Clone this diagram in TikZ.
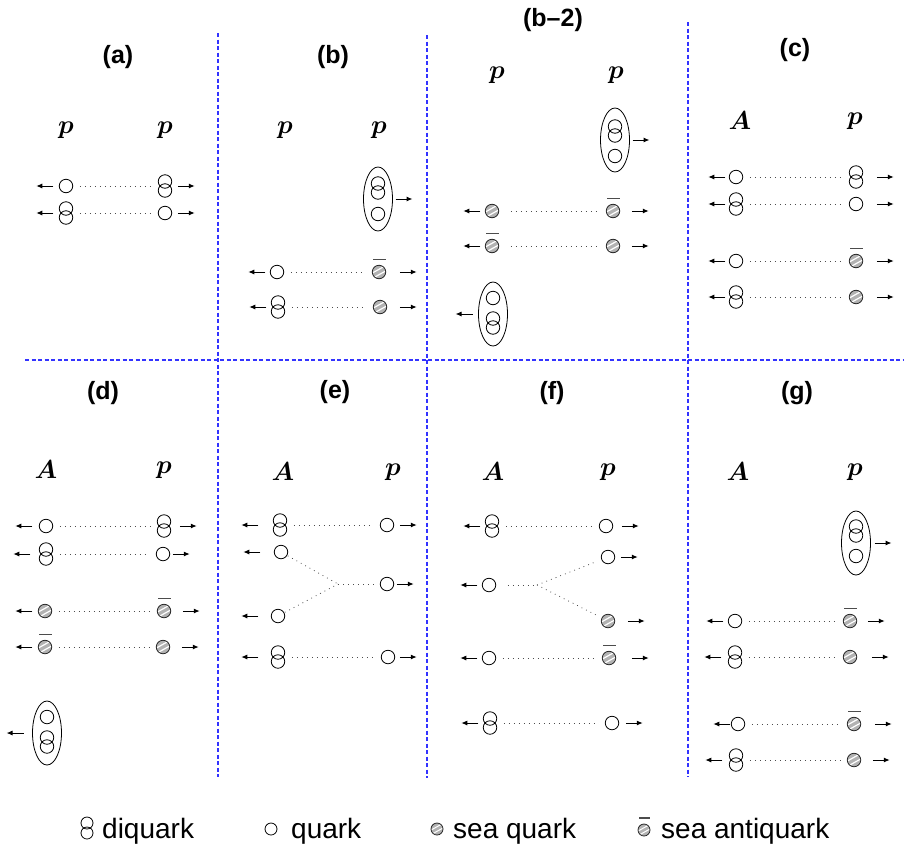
\documentclass[tikz,border=0pt]{standalone}
\usepackage{amsmath}
\usepackage{fontspec}
\setmainfont{Liberation Sans}
\usetikzlibrary{shapes.geometric,arrows.meta}

% white diagonal stripes inside a sea-quark disc; #1 = scale factor
\newcommand\seastripes[1]{%
  \foreach \s in {-1,1}{%
    \draw[white,line width=#1*1.2pt]
      ([shift={(-#1*9pt,{\s*#1*2.7pt-#1*5pt})}]path picture bounding box.center)
      -- ++(#1*18pt,#1*10pt);}}
% momentum arrows pointing right / left away from a node; optional gap
\newcommand\momr[2][6]{\draw[mom] ([xshift=#1pt]#2.east) -- +(17,0);}
\newcommand\moml[2][6]{\draw[mom] ([xshift=-#1pt]#2.west) -- +(-17,0);}

\begin{document}
\begin{tikzpicture}[x=1pt,y=-1pt,
  quark/.style={circle, draw, line width=0.8pt, minimum size=13.5pt, inner sep=0pt, outer sep=0pt},
  dqc/.style={circle, draw, line width=0.8pt, minimum size=13.5pt, inner sep=0pt},
  diquark/.style={minimum width=13.5pt, minimum height=22pt, inner sep=0pt, outer sep=0pt,
    label={[dqc,shift={(0pt,4.5pt)}]center:},
    label={[dqc,shift={(0pt,-4.5pt)}]center:}},
  sea/.style={quark, draw=black!85, fill=gray!60, path picture={\seastripes{1}}},
  bar/.style={fill=black!70, inner sep=0pt, outer sep=0pt, minimum width=13pt, minimum height=1.3pt},
  anti/.style={sea, label={[bar,shift={(0pt,12.5pt)}]center:}},
  hadron/.style={ellipse, draw, line width=0.8pt, minimum width=29pt, minimum height=64pt, inner sep=0pt, outer sep=0pt},
  mom/.style={line width=1pt, -{Latex[length=6pt,width=5pt]}},
  link/.style={line width=0.8pt, gray!60!black, dash pattern=on 0.8pt off 4.2pt, shorten <=7pt, shorten >=7pt},
  divider/.style={line width=1.1pt, blue!80!white, dash pattern=on 4pt off 2.5pt},
  title/.style={font=\bfseries\fontsize{25}{30}\selectfont},
  who/.style={font=\normalsize, scale=2.6, transform shape},
  legend/.style={font=\fontsize{28}{33}\selectfont, anchor=base west, inner sep=0pt},
  lq/.style={circle, draw, line width=0.8pt, minimum size=12pt, inner sep=0pt, outer sep=0pt},
  ldq/.style={minimum width=12pt, minimum height=22pt, inner sep=0pt,
    label={[lq,shift={(0pt,5pt)}]center:}, label={[lq,shift={(0pt,-5pt)}]center:}},
  lsea/.style={lq, draw=black!85, fill=gray!60, path picture={\seastripes{0.85}}},
  lanti/.style={lsea, label={[bar,minimum width=11pt,shift={(0pt,12pt)}]center:}},
]
\useasboundingbox (0,0) rectangle (904,849);

% panel separators
\draw[divider] (25,360) -- (904,360);
\draw[divider] (218,33) -- (218,777);
\draw[divider] (427,35) -- (427,778);
\draw[divider] (688,22) -- (688,777);

% ---------------- (a)
\node[title] (ta) at (118,57) {(a)};
\node[who] (aL) at (66,130) {$\boldsymbol{p}$};
\node[who] (aR) at (165,130) {$\boldsymbol{p}$};
\node[quark] (a1) at (66,186) {};
\node[diquark] (a2) at (165,186) {};
\node[diquark] (a3) at (66,213) {};
\node[quark] (a4) at (165,213) {};
\draw[link] (a1) -- (a2);
\draw[link] (a3) -- (a4);
\moml{a1} \momr{a2} \moml{a3} \momr{a4}

% ---------------- (b)
\node[title] (tb) at (333,57) {(b)};
\node[who] (bL) at (285,130) {$\boldsymbol{p}$};
\node[who] (bR) at (379,130) {$\boldsymbol{p}$};
\node[hadron] (bh) at (378,199) {};
\node[diquark] (bh1) at (378,188) {};
\node[quark] (bh2) at (378,214) {};
\momr[3]{bh}
\node[quark] (b1) at (277,272) {};
\node[anti] (b2) at (379,272) {};
\node[diquark] (b3) at (278,307) {};
\node[sea] (b4) at (380,307) {};
\draw[link] (b1) -- (b2);
\draw[link] (b3) -- (b4);
\moml[5]{b1} \momr[14]{b2} \moml[5]{b3} \momr[13]{b4}

% ---------------- (b-2)
\node[title] (tb2) at (553,20) {(b--2)};
\node[who] (cL) at (497,75) {$\boldsymbol{p}$};
\node[who] (cR) at (616,75) {$\boldsymbol{p}$};
\node[hadron] (ch) at (615,140) {};
\node[diquark] (ch1) at (615,131) {};
\node[quark] (ch2) at (615,156) {};
\momr[3]{ch}
\node[sea] (c1) at (492,211) {};
\node[anti] (c2) at (613,211) {};
\node[anti] (c3) at (492,246) {};
\node[sea] (c4) at (613,246) {};
\draw[link,shorten <=12pt,shorten >=9pt] (c1) -- (c2);
\draw[link,shorten <=12pt,shorten >=9pt] (c3) -- (c4);
\moml[5]{c1} \momr[12]{c2} \moml[5]{c3} \momr[12]{c4}
\node[hadron] (cg) at (493,314) {};
\node[quark] (cg1) at (493,298) {};
\node[diquark] (cg2) at (493,323) {};
\moml[6]{cg}

% ---------------- (c)
\node[title] (tc) at (795,50) {(c)};
\node[who] (dL) at (740,121) {$\boldsymbol{A}$};
\node[who] (dR) at (855,121) {$\boldsymbol{p}$};
\node[quark] (d1) at (736,177) {};
\node[diquark] (d2) at (856,177) {};
\node[diquark] (d3) at (736,204) {};
\node[quark] (d4) at (856,204) {};
\node[quark] (d5) at (736,261) {};
\node[anti] (d6) at (856,261) {};
\node[diquark] (d7) at (736,297) {};
\node[sea] (d8) at (856,297) {};
\foreach \u/\v in {d1/d2,d3/d4,d5/d6,d7/d8} \draw[link] (\u) -- (\v);
\moml[4]{d1} \momr[14]{d2} \moml[4]{d3} \momr[14]{d4}
\moml[4]{d5} \momr[14]{d6} \moml[4]{d7} \momr[14]{d8}

% ---------------- (d)
\node[title] (td) at (103,393) {(d)};
\node[who] (eL) at (46,470) {$\boldsymbol{A}$};
\node[who] (eR) at (164,470) {$\boldsymbol{p}$};
\node[quark] (e1) at (46,526) {};
\node[diquark] (e2) at (164,526) {};
\node[diquark] (e3) at (46,554) {};
\node[quark] (e4) at (163,554) {};
\node[sea] (e5) at (45,611) {};
\node[anti] (e6) at (164,611) {};
\node[anti] (e7) at (45,647) {};
\node[sea] (e8) at (163,647) {};
\foreach \u/\v in {e1/e2,e3/e4,e5/e6,e7/e8} \draw[link] (\u) -- (\v);
\moml[7]{e1} \momr[9]{e2} \moml[9]{e3} \momr[3]{e4}
\moml[6]{e5} \momr[12]{e6} \moml[6]{e7} \momr[12]{e8}
\node[hadron] (eg) at (47,733) {};
\node[quark] (eg1) at (47,717) {};
\node[diquark] (eg2) at (47,742) {};
\moml[9]{eg}

% ---------------- (e)
\node[title] (te) at (335,392) {(e)};
\node[who] (fL) at (283,472) {$\boldsymbol{A}$};
\node[who] (fR) at (393,472) {$\boldsymbol{p}$};
\node[diquark] (f1) at (280,525) {};
\node[quark] (f2) at (387,525) {};
\node[quark] (f3) at (281,552) {};
\node[quark] (f4) at (387,584) {};
\node[quark] (f5) at (278,616) {};
\node[diquark] (f6) at (278,657) {};
\node[quark] (f7) at (388,657) {};
\coordinate (fj) at (338,584);
\draw[link] (f1) -- (f2);
\draw[link,shorten <=1pt,shorten >=0pt] (f3) -- (fj);
\draw[link,shorten <=1pt,shorten >=0pt] (f5) -- (fj);
\draw[link,shorten <=0pt] (fj) -- (f4);
\draw[link] (f6) -- (f7);
\moml[15]{f1} \momr[6]{f2} \moml[14]{f3} \momr[3]{f4}
\moml[13]{f5} \moml[13]{f6} \momr[5]{f7}

% ---------------- (f)
\node[title] (tf) at (552,393) {(f)};
\node[who] (gL) at (493,472) {$\boldsymbol{A}$};
\node[who] (gR) at (608,472) {$\boldsymbol{p}$};
\node[diquark] (g1) at (492,526) {};
\node[quark] (g2) at (606,526) {};
\node[quark] (g3) at (608,557) {};
\node[quark] (g4) at (489,585) {};
\node[sea] (g5) at (608,621) {};
\node[quark] (g6) at (489,658) {};
\node[anti] (g7) at (609,658) {};
\node[diquark] (g8) at (490,723) {};
\node[quark] (g9) at (612,723) {};
\coordinate (gj) at (537,585);
\draw[link] (g1) -- (g2);
\draw[link,shorten <=12pt,shorten >=0pt] (g4) -- (gj);
\draw[link,shorten <=0pt,shorten >=5pt] (gj) -- (g3);
\draw[link,shorten <=0pt,shorten >=5pt] (gj) -- (g5);
\draw[link] (g6) -- (g7);
\draw[link] (g8) -- (g9);
\moml[5]{g1} \momr[9]{g2} \momr[6]{g3} \moml[5]{g4} \momr[13]{g5}
\moml[5]{g6} \momr[16]{g7} \moml[5]{g8} \momr[7]{g9}

% ---------------- (g)
\node[title] (tg) at (797,393) {(g)};
\node[who] (hL) at (738,472) {$\boldsymbol{A}$};
\node[who] (hR) at (855,472) {$\boldsymbol{p}$};
\node[hadron] (hg) at (856,543) {};
\node[diquark] (hg1) at (856,531) {};
\node[quark] (hg2) at (856,556) {};
\momr[4]{hg}
\node[quark] (h1) at (735,621) {};
\node[anti] (h2) at (850,621) {};
\node[diquark] (h3) at (735,657) {};
\node[sea] (h4) at (850,657) {};
\node[quark] (h5) at (738,724) {};
\node[anti] (h6) at (854,724) {};
\node[diquark] (h7) at (736,760) {};
\node[sea] (h8) at (854,760) {};
\foreach \u/\v in {h1/h2,h3/h4,h5/h6,h7/h8} \draw[link] (\u) -- (\v);
\moml[5]{h1} \momr[11]{h2} \moml[7]{h3} \momr[15]{h4}
\moml[1]{h5} \momr[14]{h6} \moml[7]{h7} \momr[12]{h8}

% ---------------- legend
\node[ldq] (k1) at (87,828) {};
\node[legend] (k1t) at (102,838) {diquark};
\node[lq] (k2) at (271,829) {};
\node[legend] (k2t) at (291,838) {quark};
\node[lsea] (k3) at (437,829) {};
\node[legend] (k3t) at (453,838) {sea quark};
\node[lanti] (k4) at (644,830) {};
\node[legend] (k4t) at (661,838) {sea antiquark};
\end{tikzpicture}
\end{document}
